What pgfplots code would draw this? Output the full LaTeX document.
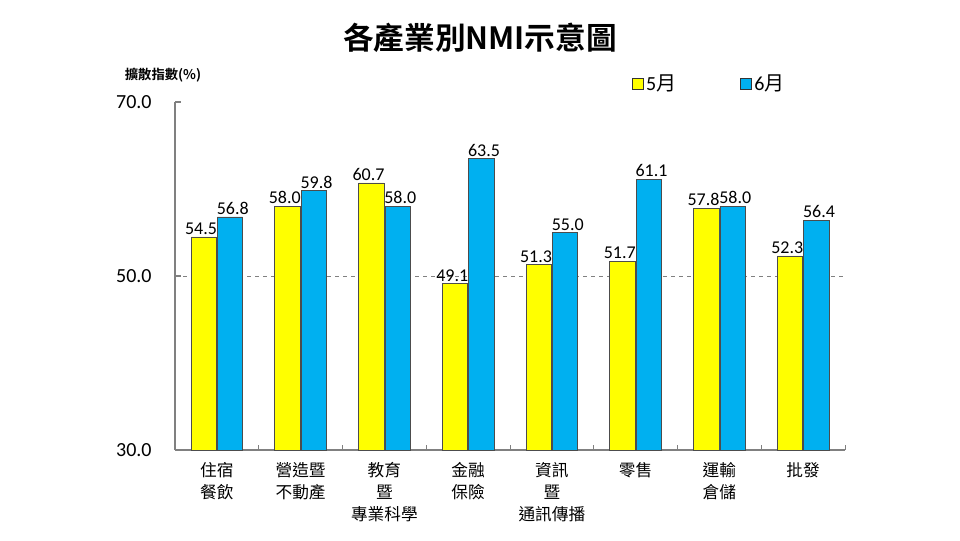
\documentclass[border=0pt]{standalone}
\usepackage{pgfplots}
\pgfplotsset{compat=1.18}
\usepackage{fontspec}
\setmainfont{Carlito}
\newfontfamily\cjk{Noto Sans CJK TC}
\newfontfamily\cjkb{Noto Sans CJK TC Bold}
\definecolor{yel}{HTML}{FFFF00}
\definecolor{blu}{HTML}{00B0F0}
\definecolor{axgray}{HTML}{808080}
\begin{document}
\begin{tikzpicture}[x=0.75pt,y=0.75pt]
\path[use as bounding box] (0,0) rectangle (960,540);
\node[font=\cjkb\fontsize{23}{26}\selectfont] at (480,502) {各產業別NMI示意圖};
\node[font=\cjkb\fontsize{10}{12}\selectfont] at (163,465) {擴散指數(\%)};
\begin{axis}[
  at={(131.25pt,67.5pt)}, anchor=south west,
  scale only axis, width=502.5pt, height=261pt,
  xmin=-0.5, xmax=7.5, ymin=30, ymax=70,
  axis x line*=bottom, axis y line*=left,
  axis line style={axgray, line width=0.8pt},
  ybar=0.8pt, bar width=19pt,
  ytick={30,70}, extra y ticks={50},
  extra y tick style={grid=major, major grid style={dashed, axgray, line width=0.5pt}},
  tick align=inside, major tick length=4.5pt,
  ytick style={axgray, line width=0.8pt},
  y tick label style={font=\fontsize{15}{17}\selectfont, xshift=-14pt},
  yticklabel style={/pgf/number format/.cd, fixed, fixed zerofill, precision=1},
  /pgf/number format/assume math mode=true,
  xtick={0,...,7},
  major x tick style={draw=none},
  minor xtick={-0.5,0.5,...,7.5},
  minor x tick style={axgray, line width=0.6pt},
  minor tick length=4pt,
  xticklabels={{住宿\\餐飲},{營造暨\\不動產},{教育\\暨\\專業科學},{金融\\保險},{資訊\\暨\\通訊傳播},{零售},{運輸\\倉儲},{批發}},
  x tick label style={font=\cjk\fontsize{12.5}{16.5}\selectfont, align=center, anchor=north, yshift=-6pt},
  nodes near coords,
  nodes near coords style={font=\fontsize{13.5}{16}\selectfont, black, inner sep=1.5pt, /pgf/number format/.cd, fixed, fixed zerofill, precision=1, assume math mode=true},
  legend style={at={(0.676,1.052)}, anchor=west, draw=none, fill=none, legend columns=2,
    /tikz/every even column/.append style={column sep=46pt},
    font=\fontsize{15}{17}\selectfont},
  legend image code/.code={\draw[#1,draw=black!80,line width=0.5pt] (0pt,-4pt) rectangle (8pt,4pt);},
]
\addplot[fill=yel, draw=black!70, line width=0.5pt, every node near coord/.append style={/tikz/xshift=-2pt}] coordinates {(0,54.5) (1,58.0) (2,60.7) (3,49.1) (4,51.3) (5,51.7) (6,57.8) (7,52.3)};
\addplot[fill=blu, draw=black!70, line width=0.5pt, every node near coord/.append style={/tikz/xshift=2pt}] coordinates {(0,56.8) (1,59.8) (2,58.0) (3,63.5) (4,55.0) (5,61.1) (6,58.0) (7,56.4)};
\legend{{5{\cjk 月}},{6{\cjk 月}}}
\end{axis}
\end{tikzpicture}
\end{document}
